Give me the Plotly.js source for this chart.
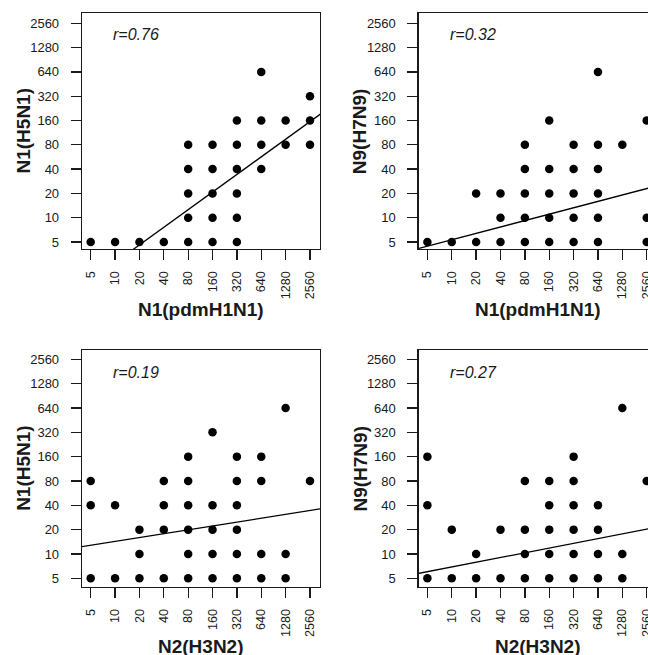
<!DOCTYPE html>
<html>
<head>
<meta charset="utf-8">
<script src="https://cdn.plot.ly/plotly-3.0.1.min.js"></script>
<style>
  html, body { margin: 0; padding: 0; overflow: hidden; background: #fff; }
  #chart { width: 680px; height: 655px; }
</style>
</head>
<body>
<div id="chart"></div>
<script>
// ---- data ----
const tickValues = [5, 10, 20, 40, 80, 160, 320, 640, 1280, 2560];
const tickLabels = ["5", "10", "20", "40", "80", "160", "320", "640", "1280", "2560"];

const xTitles = ["N1(pdmH1N1)", "N1(pdmH1N1)", "N2(H3N2)", "N2(H3N2)"];
const yTitles = ["N1(H5N1)", "N9(H7N9)", "N1(H5N1)", "N9(H7N9)"];
const rLabels = ["r=0.76", "r=0.32", "r=0.19", "r=0.27"];

// panel 1: N1(pdmH1N1) vs N1(H5N1)
const p1x = [5, 10, 20, 40, 80, 160, 320, 80, 160, 320, 80, 160, 320, 80, 160, 320, 640, 80, 160, 320, 640, 1280, 2560, 320, 640, 1280, 2560, 2560, 640];
const p1y = [5, 5, 5, 5, 5, 5, 5, 10, 10, 10, 20, 20, 20, 40, 40, 40, 40, 80, 80, 80, 80, 80, 80, 160, 160, 160, 160, 320, 640];
// panel 2: N1(pdmH1N1) vs N9(H7N9)
const p2x = [5, 10, 20, 40, 80, 160, 320, 640, 2560, 40, 80, 160, 320, 640, 2560, 20, 40, 80, 160, 320, 640, 80, 160, 320, 640, 80, 320, 640, 1280, 160, 2560, 640];
const p2y = [5, 5, 5, 5, 5, 5, 5, 5, 5, 10, 10, 10, 10, 10, 10, 20, 20, 20, 20, 20, 20, 40, 40, 40, 40, 80, 80, 80, 80, 160, 160, 640];
// panel 3: N2(H3N2) vs N1(H5N1)
const p3x = [5, 10, 20, 40, 80, 160, 320, 640, 1280, 20, 80, 160, 320, 640, 1280, 20, 40, 80, 160, 320, 5, 10, 40, 80, 160, 320, 5, 40, 80, 320, 640, 2560, 80, 320, 640, 160, 1280];
const p3y = [5, 5, 5, 5, 5, 5, 5, 5, 5, 10, 10, 10, 10, 10, 10, 20, 20, 20, 20, 20, 40, 40, 40, 40, 40, 40, 80, 80, 80, 80, 80, 80, 160, 160, 160, 320, 640];
// panel 4: N2(H3N2) vs N9(H7N9)
const p4x = [5, 10, 20, 40, 80, 160, 320, 640, 1280, 20, 80, 160, 320, 640, 1280, 10, 40, 80, 160, 320, 640, 5, 160, 320, 640, 80, 160, 320, 2560, 5, 320, 1280];
const p4y = [5, 5, 5, 5, 5, 5, 5, 5, 5, 10, 10, 10, 10, 10, 10, 20, 20, 20, 20, 20, 20, 40, 40, 40, 40, 80, 80, 80, 80, 160, 160, 640];

// fitted lines: log2(y/5) = intercept + slope * log2(x/5)
const fitIntercept = [-1.57, -0.17, 1.357, 0.273];
const fitSlope = [0.725, 0.263, 0.159, 0.194];

// ---- layout geometry ----
const W = 680, H = 655;
const colPx = [[82, 320], [418.7, 656.7]];
const rowPx = [[13, 249], [350, 586.7]];
const xRange = [0.5915, 3.5318];
const yRanges = [[0.6123, 3.5358], [0.595, 3.5233]];

const FONT = "Liberation Sans, Arial, Helvetica, sans-serif";
const INK = "#1a1a1a";

const panels = [[p1x, p1y], [p2x, p2y], [p3x, p3y], [p4x, p4y]];
const traces = [];
const layout = {
  width: W, height: H,
  margin: {l: 0, r: 0, t: 0, b: 0},
  paper_bgcolor: "#fff", plot_bgcolor: "#fff",
  showlegend: false,
  font: {family: FONT, color: INK},
  annotations: []
};

panels.forEach((p, i) => {
  const row = Math.floor(i / 2), col = i % 2;
  const sfx = i === 0 ? "" : String(i + 1);
  const xa = "x" + sfx, ya = "y" + sfx;
  traces.push({
    type: "scatter", mode: "markers", x: p[0], y: p[1],
    xaxis: xa, yaxis: ya,
    marker: {color: "#000", size: 8.5},
    hoverinfo: "x+y"
  });
  // regression line across the whole x range (clipped by the plot area)
  const xs = [Math.pow(10, xRange[0] - 0.05), Math.pow(10, xRange[1] + 0.05)];
  const ys = xs.map(v => 5 * Math.pow(2, fitIntercept[i] + fitSlope[i] * Math.log2(v / 5)));
  traces.push({
    type: "scatter", mode: "lines", x: xs, y: ys,
    xaxis: xa, yaxis: ya,
    line: {color: "#000", width: 1.3},
    hoverinfo: "skip"
  });

  const [x0, x1] = colPx[col];
  const [y0, y1] = rowPx[row];
  const common = {
    type: "log", tickmode: "array", tickvals: tickValues, ticktext: tickLabels,
    showgrid: false, zeroline: false, showline: true, mirror: true,
    linecolor: INK, linewidth: 1.3,
    ticks: "outside", ticklen: 10, tickwidth: 1.3, tickcolor: INK,
    tickfont: {family: FONT, size: 13, color: INK},
    fixedrange: true
  };
  layout["xaxis" + sfx] = Object.assign({}, common, {
    domain: [x0 / W, x1 / W], range: xRange, anchor: ya,
    tickangle: -90, ticklabelstandoff: 6,
    tickfont: {family: FONT, size: 12.6, color: INK}
  });
  layout["yaxis" + sfx] = Object.assign({}, common, {
    domain: [1 - y1 / H, 1 - y0 / H], range: yRanges[row], anchor: xa,
    ticklabelstandoff: 9
  });

  // axis titles and correlation labels
  layout.annotations.push({
    xref: "paper", yref: "paper", x: (x0 + x1) / 2 / W, y: 1 - (y1 + 60) / H,
    xanchor: "center", yanchor: "middle", showarrow: false,
    text: "<b>" + xTitles[i] + "</b>", font: {family: FONT, size: 19, color: INK}
  });
  layout.annotations.push({
    xref: "paper", yref: "paper", x: (x0 - 58.5) / W, y: 1 - (y0 + y1) / 2 / H,
    xanchor: "center", yanchor: "middle", showarrow: false, textangle: -90,
    text: "<b>" + yTitles[i] + "</b>", font: {family: FONT, size: 19, color: INK}
  });
  layout.annotations.push({
    xref: "paper", yref: "paper", x: (x0 + 29) / W, y: 1 - (y0 + 22) / H,
    xanchor: "left", yanchor: "middle", showarrow: false,
    text: "<i>" + rLabels[i] + "</i>", font: {family: FONT, size: 16, color: INK}
  });
});

Plotly.newPlot("chart", traces, layout, {staticPlot: true, displayModeBar: false});
</script>
</body>
</html>
